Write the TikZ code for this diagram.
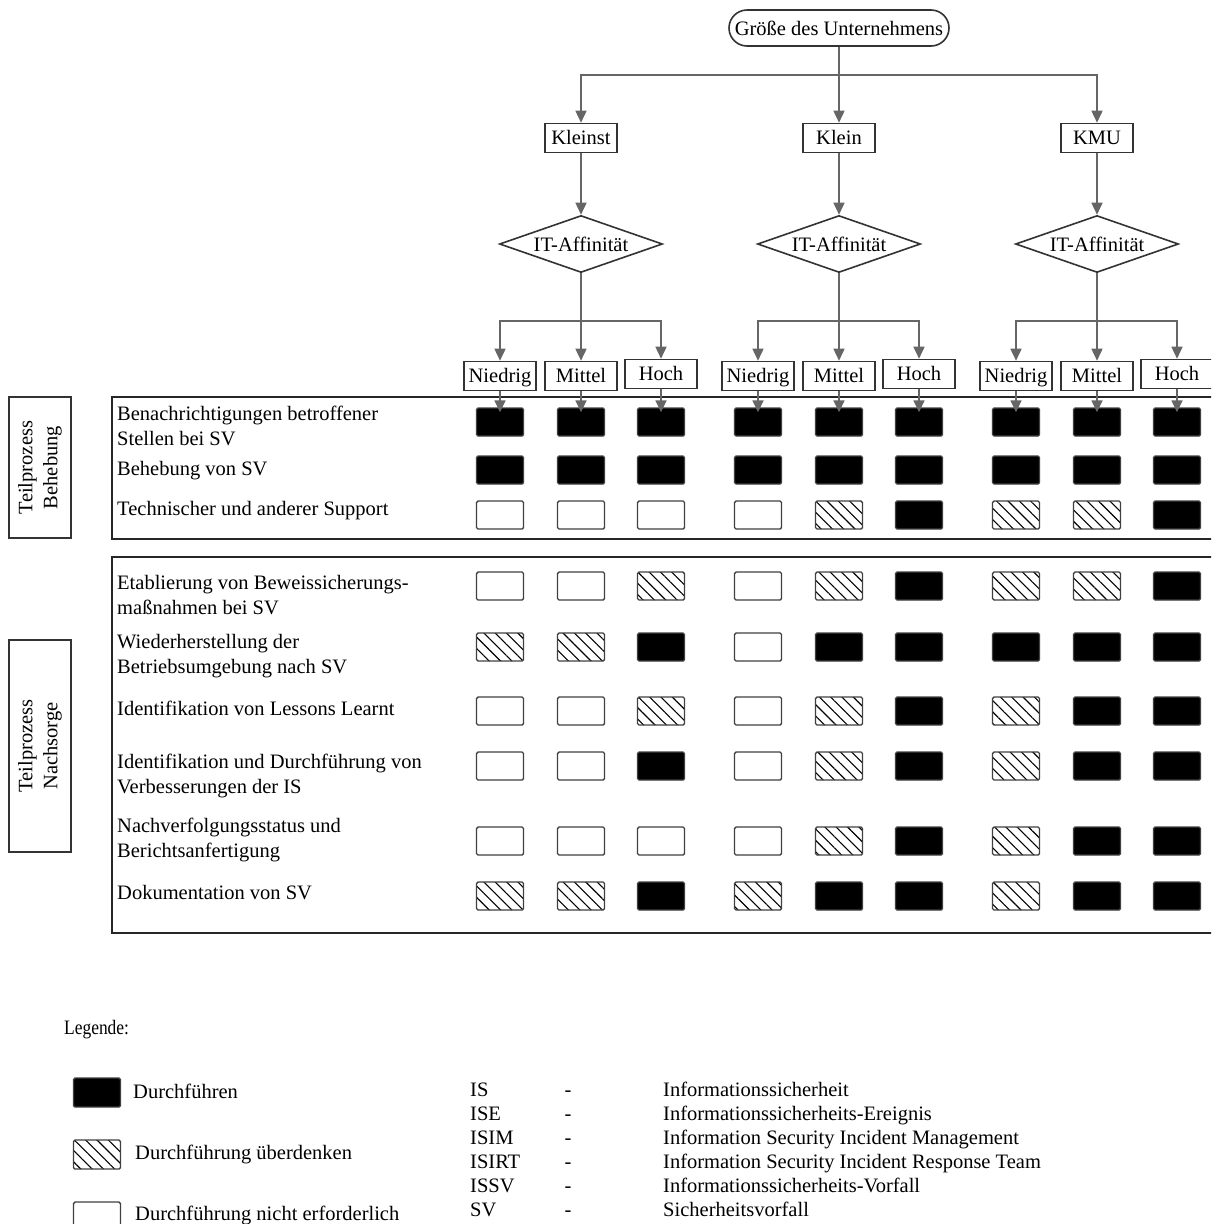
\documentclass[tikz,border=0pt]{standalone}
\usepackage{fontspec}
\setmainfont{Liberation Serif}
\usetikzlibrary{shapes.geometric,shapes.misc,arrows.meta,patterns.meta}
\newcommand\mkcellrow[3]{%
  \foreach \s [count=\c] in {#3} {%
    \pgfmathsetmacro\cx{{500,581,661,758,839,919,1016,1097,1177}[\c-1]}%
    \edef\tmpcell{\noexpand\node[cell\s] (c#1-\c) at (\cx,#2) {};}%
    \tmpcell
  }}
\begin{document}
\begin{tikzpicture}[x=1pt,y=-1pt,
  every node/.style={font=\fontsize{20.5}{25}\selectfont},
  frame/.style={draw=black!85, line width=1.6pt},
  box/.style={draw=black!80, line width=1.6pt, rectangle, minimum width=72pt, minimum height=29pt, inner sep=2pt, text height=15pt, text depth=1.5pt, fill=white},
  stadium/.style={draw=black!80, line width=1.6pt, rounded rectangle, minimum width=224pt, minimum height=36pt, inner sep=2pt},
  decision/.style={draw=black!80, line width=1.6pt, diamond, shape aspect=2.86, minimum width=163pt, minimum height=57pt, inner sep=0pt, fill=white},
  link/.style={draw=black!60, line width=1.6pt},
  arr/.style={link, -{Triangle[length=12pt,width=11pt]}},
  cellbase/.style={draw=black!75, line width=1.4pt, rectangle, rounded corners=1.5pt, minimum width=47pt, minimum height=28pt, inner sep=0pt},
  cellB/.style={cellbase, fill=black},
  cellH/.style={cellbase, pattern={Lines[angle=-45,distance=8pt,line width=1.1pt]}},
  cellW/.style={cellbase, fill=white},
  sidebox/.style={draw=black!80, line width=1.4pt, rectangle, rotate=90, minimum height=62pt, align=center, inner sep=0pt},
  rowlabel/.style={anchor=west, align=left, inner sep=0pt},
  plain/.style={anchor=west, inner sep=0pt, text height=15pt, text depth=1.5pt}
]
\useasboundingbox (0,0) rectangle (1211,1224);
\clip (0,0) rectangle (1211,1224);

% tree
\node[stadium] (top) at (839,28) {Größe des Unternehmens};
\node[box] (S1) at (581,138) {Kleinst};
\node[box] (S2) at (839,138) {Klein};
\node[box] (S3) at (1097,138) {KMU};
\foreach \i/\x in {1/581,2/839,3/1097} {
  \node[decision] (D\i) at (\x,244) {IT-Affinität};
  \coordinate (jD\i) at (\x,321);
}
\coordinate (jtop) at (839,75);
\foreach \x/\t/\yy [count=\c] in {500/Niedrig/376, 581/Mittel/376, 661/Hoch/374, 758/Niedrig/376, 839/Mittel/376, 919/Hoch/374, 1016/Niedrig/376, 1097/Mittel/376, 1177/Hoch/374}
  \node[box] (L\c) at (\x,\yy) {\t};

\draw[link] (top) -- (jtop);
\draw[arr] (jtop) -| (S1);
\draw[arr] (jtop) -- (S2);
\draw[arr] (jtop) -| (S3);
\foreach \i in {1,2,3} {
  \draw[arr] (S\i) -- (D\i);
  \draw[link] (D\i) -- (jD\i);
}
\draw[arr] (jD1) -| (L1); \draw[arr] (jD1) -- (L2); \draw[arr] (jD1) -| (L3);
\draw[arr] (jD2) -| (L4); \draw[arr] (jD2) -- (L5); \draw[arr] (jD2) -| (L6);
\draw[arr] (jD3) -| (L7); \draw[arr] (jD3) -- (L8); \draw[arr] (jD3) -| (L9);

% frames
\draw[frame] (112,397) rectangle (1240,539);
\draw[frame] (112,557) rectangle (1240,933);
\node[sidebox, minimum width=141pt] (sb1) at (40,467.5) {Teilprozess\\Behebung};
\node[sidebox, minimum width=212pt] (sb2) at (40,746) {Teilprozess\\Nachsorge};

% row labels
\node[rowlabel] (r1) at (117,426) {Benachrichtigungen betroffener\\Stellen bei SV};
\node[rowlabel] (r2) at (117,471) {Behebung von SV};
\node[rowlabel] (r3) at (117,511) {Technischer und anderer Support};
\node[rowlabel] (r4) at (117,595) {Etablierung von Beweissicherungs-\\maßnahmen bei SV};
\node[rowlabel] (r5) at (117,656) {Wiederherstellung der\\Betriebsumgebung nach SV};
\node[rowlabel] (r6) at (117,708) {Identifikation von Lessons Learnt};
\node[rowlabel] (r7) at (117,776) {Identifikation und Durchführung von\\Verbesserungen der IS};
\node[rowlabel] (r8) at (117,840) {Nachverfolgungsstatus und\\Berichtsanfertigung};
\node[rowlabel] (r9) at (117,893) {Dokumentation von SV};

% cells
\mkcellrow{1}{422}{B,B,B,B,B,B,B,B,B}
\mkcellrow{2}{470}{B,B,B,B,B,B,B,B,B}
\mkcellrow{3}{515}{W,W,W,W,H,B,H,H,B}
\mkcellrow{4}{586}{W,W,H,W,H,B,H,H,B}
\mkcellrow{5}{647}{H,H,B,W,B,B,B,B,B}
\mkcellrow{6}{711}{W,W,H,W,H,B,H,B,B}
\mkcellrow{7}{766}{W,W,B,W,H,B,H,B,B}
\mkcellrow{8}{841}{W,W,W,W,H,B,H,B,B}
\mkcellrow{9}{896}{H,H,B,H,B,B,H,B,B}

\foreach \c in {1,...,9}
  \draw[arr, shorten >=-5pt] (L\c) -- (c1-\c);

% legend
\node[plain] (leg) at (64,1028) {\scalebox{0.85}[1]{Legende:}};
\node[cellB, minimum height=29pt] (lb) at (97,1092.5) {};
\node[cellH, minimum height=29pt] (lh) at (97,1154.5) {};
\node[cellW, minimum height=29pt] (lw) at (97,1216.5) {};
\node[plain] (lbt) at (133,1092) {Durchführen};
\node[plain] (lht) at (135,1153) {Durchführung überdenken};
\node[plain] (lwt) at (135,1214) {Durchführung nicht erforderlich};

\foreach \a/\d [count=\i] in {IS/Informationssicherheit, ISE/Informationssicherheits-Ereignis, ISIM/Information Security Incident Management, ISIRT/Information Security Incident Response Team, ISSV/Informationssicherheits-Vorfall, SV/Sicherheitsvorfall} {
  \pgfmathsetmacro\ay{1090+(\i-1)*24}
  \node[plain] (ab\i) at (470,\ay) {\a};
  \node[plain, anchor=center] (da\i) at (568,\ay) {-};
  \node[plain] (df\i) at (663,\ay) {\d};
}
\end{tikzpicture}
\end{document}
